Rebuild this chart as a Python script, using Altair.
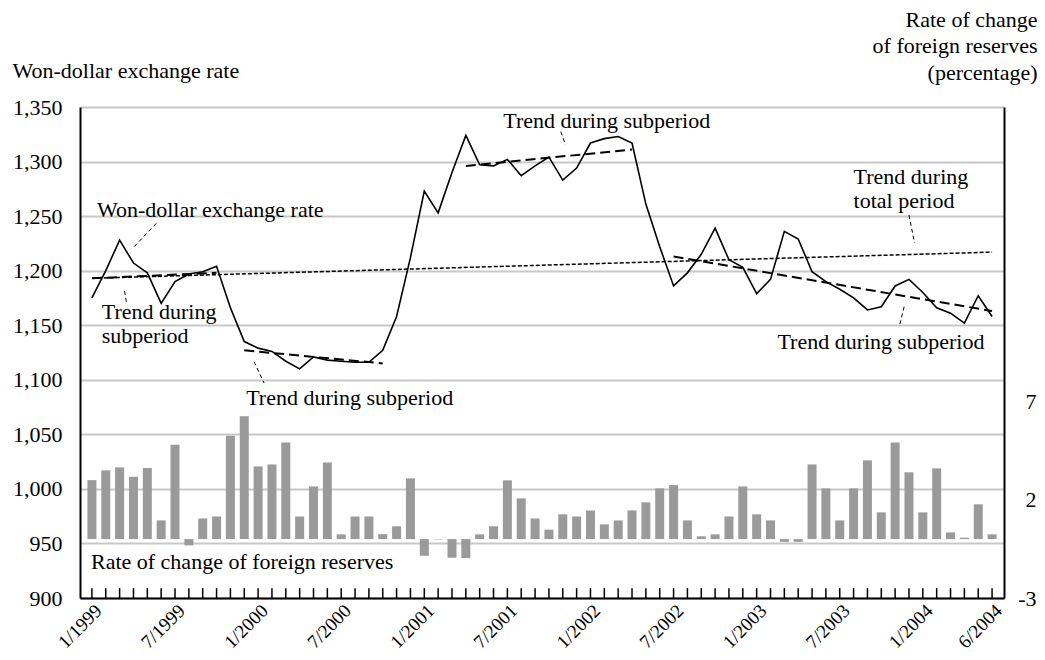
import altair as alt
import pandas as pd

FONT = "Liberation Serif"
FS = 22

# ---- data ----
tick_months = [0, 6, 12, 18, 24, 30, 36, 42, 48, 54, 60, 65]
tick_labels = ["1/1999", "7/1999", "1/2000", "7/2000", "1/2001", "7/2001",
               "1/2002", "7/2002", "1/2003", "7/2003", "1/2004", "6/2004"]

exchange_rate = [1175, 1200, 1228, 1207, 1198, 1170, 1190, 1197, 1199, 1204,
                 1166, 1135, 1129, 1126, 1117, 1110, 1121, 1118, 1117, 1116,
                 1116, 1127, 1158, 1212, 1273, 1253, 1290, 1324, 1297, 1296,
                 1302, 1287, 1296, 1304, 1283, 1294, 1317, 1321, 1323, 1317,
                 1261, 1222, 1186, 1198, 1215, 1239, 1210, 1203, 1179, 1192,
                 1236, 1229, 1199, 1190, 1183, 1175, 1164, 1167, 1186, 1192,
                 1180, 1166, 1161, 1152, 1177, 1158]

reserve_change = [3.0, 3.5, 3.65, 3.17, 3.62, 0.95, 4.8, -0.32, 1.05, 1.15,
                  5.26, 6.25, 3.7, 3.8, 4.92, 1.15, 2.68, 3.9, 0.24, 1.15,
                  1.15, 0.25, 0.65, 3.09, -0.85, -0.02, -0.95, -0.97, 0.24, 0.65,
                  2.99, 2.07, 1.05, 0.48, 1.26, 1.15, 1.46, 0.75, 0.95, 1.46,
                  1.87, 2.58, 2.75, 0.95, 0.14, 0.24, 1.15, 2.68, 1.26, 0.95,
                  -0.14, -0.14, 3.8, 2.58, 0.95, 2.58, 4.01, 1.36, 4.92, 3.4,
                  1.36, 3.6, 0.34, 0.07, 1.77, 0.24]

month = list(range(len(exchange_rate)))

# trend lines: segment, kind, start month, end month, start value, end value
trend_seg = ["total", "sub1", "sub2", "sub3", "sub4"]
trend_kind = ["total", "sub", "sub", "sub", "sub"]
trend_k0 = [0, 0, 11, 27, 42]
trend_k1 = [65, 9, 21, 39, 65]
trend_v0 = [1193, 1193, 1127, 1296, 1213]
trend_v1 = [1217, 1198, 1115, 1311, 1163]

# annotations (month position, exchange-rate value of first line); "\n" separates lines
ann_text = ["Won-dollar exchange rate", "Trend during\nsubperiod",
            "Trend during subperiod", "Trend during subperiod",
            "Trend during\ntotal period", "Trend during subperiod",
            "Rate of change of foreign reserves"]
ann_k = [0.36, 0.71, 11.14, 29.7, 55.0, 49.5, -0.07]
ann_v = [1255.6, 1161.7, 1083.3, 1337.2, 1286.3, 1134.6, 933.0]

# leader lines
lead_k = [4.65, 2.35, 11.71, 33.86, 59.0, 58.65]
lead_v = [1243.4, 1181.4, 1116.6, 1327.4, 1251.0, 1167.0]
lead_k2 = [2.96, 2.49, 12.43, 34.2, 59.4, 58.3]
lead_v2 = [1220.8, 1171.3, 1097.0, 1315.2, 1225.4, 1148.7]

# ---- tables ----
df = pd.DataFrame({"month": month, "rate": exchange_rate, "reserves": reserve_change})
df["tick0"] = 900
df["tick1"] = 909

trend_rows = []
for s, kd, a, b, va, vb in zip(trend_seg, trend_kind, trend_k0, trend_k1, trend_v0, trend_v1):
    trend_rows.append({"seg": s, "kind": kd, "k": a, "v": va})
    trend_rows.append({"seg": s, "kind": kd, "k": b, "v": vb})
tdf = pd.DataFrame(trend_rows)
adf = pd.DataFrame({"text": ann_text, "k": ann_k, "v": ann_v})
ldf = pd.DataFrame({"k": lead_k, "v": lead_v, "k2": lead_k2, "v2": lead_v2})

xs = alt.Scale(domain=[-0.5, 65.5], nice=False, zero=False)
ys = alt.Scale(domain=[900, 1350], nice=False, zero=False)
rs = alt.Scale(domain=[-3, 22], nice=False, zero=False)

label_expr = "[" + ",".join("'%s'" % t for t in tick_labels) + "][indexof([" + \
    ",".join(str(m) for m in tick_months) + "], datum.value)]"

x_axis = alt.Axis(values=tick_months, labelExpr=label_expr, labelAngle=-45,
                  labelAlign="right", labelBaseline="top", labelPadding=3,
                  labelFontSize=19,
                  grid=False, ticks=False, domainColor="black", domainWidth=2,
                  labelOverlap=False, labelFlush=False, labelBound=False, title=None)

y_axis = alt.Axis(values=list(range(900, 1351, 50)), format=",d", grid=True,
                  gridColor="#c8c8c8", gridWidth=2, ticks=False,
                  domainColor="black", domainWidth=2, labelPadding=18,
                  labelFlush=False, labelOverlap=False,
                  title="Won-dollar exchange rate", titleAngle=0, titleAlign="left",
                  titleX=-68, titleY=-37, titleBaseline="middle",
                  titleFontWeight="normal")

r_axis = alt.Axis(orient="right", values=[-3, 2, 7], grid=False, ticks=False,
                  domainColor="black", domainWidth=2, labelPadding=32,
                  labelAlign="right",
                  labelExpr="datum.value < 0 ? '-' + abs(datum.value) : '' + datum.value",
                  labelFlush=False, labelOverlap=False,
                  title=["Rate of change", "of foreign reserves", "(percentage)"],
                  titleAngle=0, titleAlign="right", titleX=33, titleY=-98,
                  titleBaseline="top", titleLineHeight=26.5, titleFontWeight="normal")


def X(field):
    return alt.X(field, scale=xs, axis=x_axis)


def Y(field):
    return alt.Y(field, scale=ys, axis=y_axis)


line = alt.Chart(df).mark_line(color="black", strokeWidth=1.6).encode(
    x=X("month:Q"), y=Y("rate:Q"),
)

ticks = alt.Chart(df).mark_rule(color="black", strokeWidth=1.5).encode(
    x=X("month:Q"), y=Y("tick0:Q"), y2="tick1:Q",
)

trends = alt.Chart(tdf).mark_line(color="black").encode(
    x=X("k:Q"), y=Y("v:Q"),
    detail="seg:N",
    strokeDash=alt.StrokeDash("kind:N", scale=alt.Scale(domain=["total", "sub"],
                                                          range=[[4, 2], [10, 5]]), legend=None),
    strokeWidth=alt.StrokeWidth("kind:N", scale=alt.Scale(domain=["total", "sub"],
                                                            range=[1.5, 2]), legend=None),
)

texts = alt.Chart(adf).mark_text(align="left", baseline="middle", font=FONT,
                                 fontSize=FS, color="black", lineBreak="\n",
                                 lineHeight=24).encode(
    x=X("k:Q"), y=Y("v:Q"), text="text:N",
)

leaders = alt.Chart(ldf).mark_rule(color="black", strokeWidth=1, strokeDash=[4, 3]).encode(
    x=X("k:Q"), y=Y("v:Q"), x2="k2:Q", y2="v2:Q",
)

left = alt.layer(line, ticks, trends, leaders, texts)

bars = alt.Chart(df).mark_bar(color="#9a9a9a", size=9).encode(
    x=X("month:Q"),
    y=alt.Y("reserves:Q", scale=rs, axis=r_axis),
)

chart = alt.layer(bars, left).resolve_scale(y="independent").properties(
    width=924, height=491,
    autosize=alt.AutoSizeParams(type="none"),
    padding={"left": 72, "top": 99, "right": 33, "bottom": 54},
).configure_view(stroke=None).configure_axis(
    labelFont=FONT, labelFontSize=FS, labelColor="black",
    titleFont=FONT, titleFontSize=FS, titleColor="black",
)

chart.save("out.html", embed_options={"renderer": "svg", "actions": False})
